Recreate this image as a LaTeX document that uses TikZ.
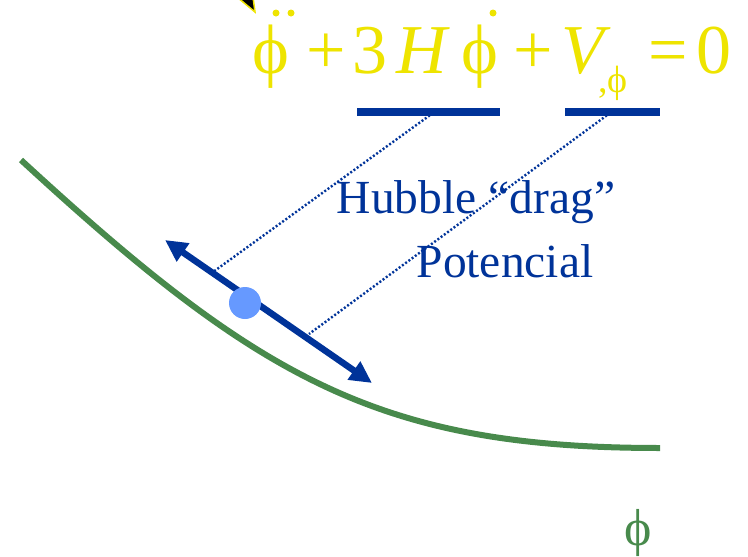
\documentclass[tikz,border=0pt]{standalone}
\usepackage{fontspec}
\setmainfont{Liberation Serif}
\usetikzlibrary{arrows.meta}
\definecolor{eqyellow}{RGB}{238,228,0}
\definecolor{dblue}{RGB}{0,51,153}
\definecolor{ballblue}{RGB}{102,153,255}
\definecolor{cgreen}{RGB}{72,138,76}
\tikzset{
  eq/.style={inner sep=0pt, anchor=base, text=eqyellow, font=\fontsize{70}{70}\selectfont},
  eqsub/.style={inner sep=0pt, anchor=base, text=eqyellow, font=\fontsize{38}{38}\selectfont},
  lbl/.style={inner sep=0pt, anchor=base, text=dblue, font=\fontsize{47.5}{50}\selectfont},
  bar/.style={draw=dblue, line width=8pt},
  guide/.style={draw=dblue, line width=2.4pt, dash pattern=on 2pt off 2pt},
  force/.style={draw=dblue, line width=6.5pt, {Triangle[length=22pt,width=21pt]}-{Triangle[length=22pt,width=21pt]}},
  dotacc/.style={fill=eqyellow}
}
\begin{document}
\begin{tikzpicture}[x=1pt,y=-1pt]
\useasboundingbox (0,0) rectangle (748,557);
% partial arrowhead at top
\filldraw[fill=black, draw=eqyellow, line width=1.5pt] (237,-3) -- (255,12) -- (253,-3) -- cycle;
% equation
\node[eq] (p1) at (271,73) {ϕ};
\fill[dotacc] (276,13) circle (3.5) (291,13) circle (3.5);
\node[eq] (pl1) at (326,73) {+};
\node[eq] (three) at (369.5,73) {3};
\node[eq] (H) at (422,73) {\itshape H};
\node[eq] (p2) at (480,73) {ϕ};
\fill[dotacc] (493,13) circle (3.5);
\node[eq] (pl2) at (533.5,73) {+};
\node[eq] (V) at (583,73) {\itshape V};
\node[eqsub] (sub) at (613,92) {,ϕ};
\node[eq] (eqs) at (668.5,73) {=};
\node[eq] (zero) at (713.5,73) {0};
% underline bars
\coordinate (b1l) at (357,112);
\coordinate (b1r) at (500,112);
\coordinate (b2l) at (565,112);
\coordinate (b2r) at (660,112);
\draw[bar] (b1l) -- (b1r);
\draw[bar] (b2l) -- (b2r);
% dotted guides
\coordinate (g1s) at (433,113);
\coordinate (g1e) at (213,272);
\coordinate (g2s) at (610,113);
\coordinate (g2e) at (309,334);
\draw[guide] (g1s) -- (g1e);
\draw[guide] (g2s) -- (g2e);
% potential curve
\coordinate (cs) at (21,160);
\coordinate (ce) at (660,448);
\draw[cgreen, line width=6pt] (cs) .. controls (260,380) and (380,448) .. (ce);
% force arrow
\coordinate (fa) at (165,240);
\coordinate (fb) at (372,383);
\draw[force] (fa) -- (fb);
% ball
\node[circle, fill=ballblue, inner sep=0pt, minimum size=32pt] (ball) at (245,303) {};
% labels
\node[lbl] (hub) at (476,213) {Hubble “drag”};
\node[lbl] (pot) at (505,277) {Potencial};
\node[inner sep=0pt, anchor=base, text=cgreen, font=\fontsize{52}{52}\selectfont] (phi) at (638,545) {ϕ};
\end{tikzpicture}
\end{document}
